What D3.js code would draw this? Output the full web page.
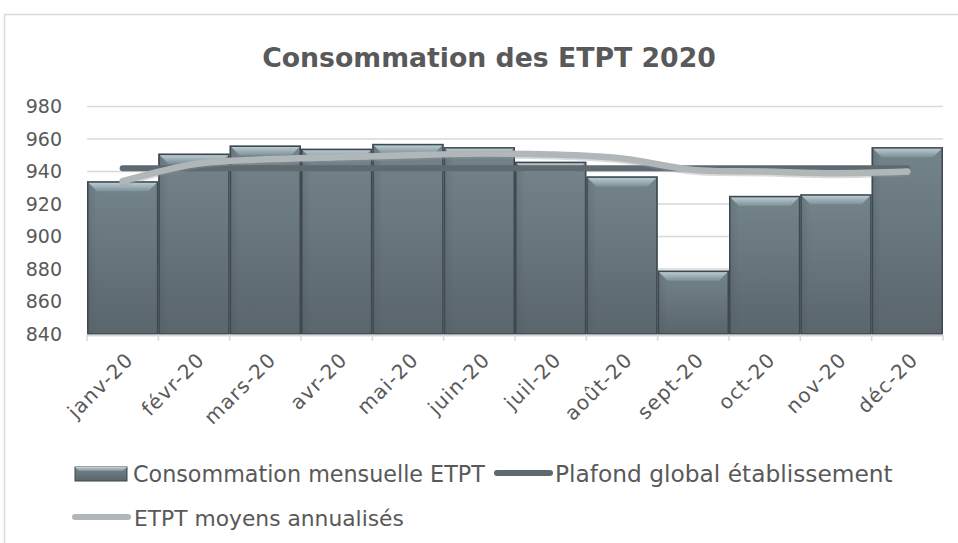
<!DOCTYPE html>
<html><head><meta charset="utf-8">
<script src="https://cdn.jsdelivr.net/npm/d3@7"></script>
<style>html,body{margin:0;padding:0;background:#fff;}svg{display:block;}</style>
</head><body>
<svg id="c" width="958" height="543"></svg>
<script>
const months = ["janv-20","févr-20","mars-20","avr-20","mai-20","juin-20","juil-20","août-20","sept-20","oct-20","nov-20","déc-20"];
const consommation = [934,951,956,954,957,955,946,937,879,925,926,955];
const plafond = [942,942,942,942,942,942,942,942,942,942,942,942];
const moyens = [934,944.5,947.5,948.7,950,951,950.5,948,941,940,939,940];
const yTicks = [840,860,880,900,920,940,960,980];
const title = "Consommation des ETPT 2020";
const legendLabels = ["Consommation mensuelle ETPT","Plafond global établissement","ETPT moyens annualisés"];

const FONT = "'DejaVu Sans', sans-serif";
const TXT = "#595959";
const svg = d3.select("#c");
const defs = svg.append("defs");

const bg = defs.append("linearGradient").attr("id","barg").attr("x1",0).attr("y1",0).attr("x2",0).attr("y2",1);
bg.append("stop").attr("offset","0%").attr("stop-color","#74848b");
bg.append("stop").attr("offset","100%").attr("stop-color","#5a656c");
const tg = defs.append("linearGradient").attr("id","topg").attr("x1",0).attr("y1",0).attr("x2",0).attr("y2",1);
tg.append("stop").attr("offset","0%").attr("stop-color","#c3d4db");
tg.append("stop").attr("offset","100%").attr("stop-color","#7f9198");
const sg = defs.append("linearGradient").attr("id","sideg").attr("x1",0).attr("y1",0).attr("x2",1).attr("y2",0);
sg.append("stop").attr("offset","0%").attr("stop-color","#4a555b").attr("stop-opacity",0.6);
sg.append("stop").attr("offset","100%").attr("stop-color","#4a555b").attr("stop-opacity",0);

// chart frame
svg.append("path").attr("d","M4.5,543 L4.5,14.5 L958,14.5").attr("fill","none").attr("stroke","#d9d9d9").attr("stroke-width",1.5);

const x = d3.scaleBand().domain(months).range([87,943]).padding(0);
const y = d3.scaleLinear().domain([840,980]).range([334,106.5]);

// gridlines
svg.append("g").selectAll("line").data(yTicks.filter(d=>d>840)).join("line")
  .attr("x1",87).attr("x2",943).attr("y1",d=>y(d)).attr("y2",d=>y(d))
  .attr("stroke","#d9d9d9").attr("stroke-width",1.5);

// y labels
svg.append("g").selectAll("text").data(yTicks).join("text")
  .attr("x",62).attr("y",d=>y(d)).attr("dy","0.36em").attr("text-anchor","end")
  .attr("font-family",FONT).attr("font-size",19).attr("fill",TXT).text(d=>d);

// bars
const bars = svg.append("g").selectAll("g").data(months).join("g");
bars.append("rect").attr("x",d=>x(d)).attr("width",x.bandwidth())
  .attr("y",(d,i)=>y(consommation[i])).attr("height",(d,i)=>y(840)-y(consommation[i]))
  .attr("fill","url(#barg)");
const bev = 10;
bars.append("rect").attr("x",d=>x(d)).attr("width",bev)
  .attr("y",(d,i)=>y(consommation[i])).attr("height",(d,i)=>y(840)-y(consommation[i]))
  .attr("fill","url(#sideg)").attr("opacity",0.5);
bars.append("path").attr("d",(d,i)=>{
  const x0=x(d), x1=x(d)+x.bandwidth(), t=y(consommation[i]);
  return `M${x0},${t} L${x1},${t} L${x1-bev},${t+bev} L${x0+bev},${t+bev} Z`;
}).attr("fill","url(#topg)");
bars.append("rect").attr("x",d=>x(d)+0.75).attr("width",x.bandwidth()-1.5)
  .attr("y",(d,i)=>y(consommation[i])+0.75).attr("height",(d,i)=>y(840)-y(consommation[i])-0.75)
  .attr("fill","none").attr("stroke","#3e484e").attr("stroke-width",1.5);

// x axis
svg.append("line").attr("x1",87).attr("x2",943).attr("y1",335.5).attr("y2",335.5).attr("stroke","#d9d9d9").attr("stroke-width",2);
const bounds = months.map(m=>x(m)).concat([x(months[11])+x.bandwidth()]);
svg.append("g").selectAll("line").data(bounds).join("line")
  .attr("x1",d=>d).attr("x2",d=>d).attr("y1",335).attr("y2",341).attr("stroke","#d9d9d9").attr("stroke-width",1.5);
svg.append("g").selectAll("text").data(months).join("text")
  .attr("transform",d=>`translate(${x(d)+x.bandwidth()/2+7},${356}) rotate(-45)`)
  .attr("text-anchor","end").attr("dy","0.35em")
  .attr("font-family",FONT).attr("font-size",20).attr("letter-spacing","1.2px").attr("fill",TXT).text(d=>d);

// lines
const cx = d=>x(d)+x.bandwidth()/2;
const lineP = d3.line().x((d,i)=>cx(months[i])).y(d=>y(d));
const lineM = d3.line().x((d,i)=>cx(months[i])).y(d=>y(d)).curve(d3.curveCatmullRom.alpha(0.5));
svg.append("path").attr("d",lineP(plafond)).attr("fill","none").attr("stroke","#5e6970").attr("stroke-width",6).attr("stroke-linecap","round");
svg.append("path").attr("d",lineM(moyens)).attr("fill","none").attr("stroke","#8f9598").attr("stroke-opacity",0.35).attr("stroke-width",7).attr("stroke-linecap","round").attr("transform","translate(0,1.5)");
svg.append("path").attr("d",lineM(moyens)).attr("fill","none").attr("stroke","#b1b6b9").attr("stroke-width",6.5).attr("stroke-linecap","round");

// title
const t = svg.append("text").attr("x",489).attr("y",67).attr("text-anchor","middle")
  .attr("font-family",FONT).attr("font-weight","bold").attr("font-size",28).attr("fill",TXT).text(title);
const tw = t.node().getComputedTextLength();
t.attr("font-size", 28*454/tw);

// legend
const lg = svg.append("g");
lg.append("rect").attr("x",75).attr("y",467).attr("width",52).attr("height",14).attr("fill","url(#barg)").attr("stroke","#3e484e").attr("stroke-width",1);
lg.append("path").attr("d","M75,467 L127,467 L123,471 L79,471 Z").attr("fill","url(#topg)");
const l1 = lg.append("text").attr("x",133).attr("y",474).attr("dy","0.36em").attr("font-family",FONT).attr("font-size",20).attr("fill",TXT).text(legendLabels[0]);
const fit = (sel, w) => { const cw = sel.node().getComputedTextLength(); sel.attr("font-size", 20*w/cw); };
fit(l1, 352);
lg.append("line").attr("x1",497).attr("x2",550).attr("y1",473).attr("y2",473).attr("stroke","#5e6970").attr("stroke-width",6).attr("stroke-linecap","round");
const l2 = lg.append("text").attr("x",555).attr("y",474).attr("dy","0.36em").attr("font-family",FONT).attr("font-size",20).attr("fill",TXT).text(legendLabels[1]);
fit(l2, 338);
lg.append("line").attr("x1",75).attr("x2",128).attr("y1",517).attr("y2",517).attr("stroke","#b1b6b9").attr("stroke-width",6).attr("stroke-linecap","round");
const l3 = lg.append("text").attr("x",134).attr("y",518).attr("dy","0.36em").attr("font-family",FONT).attr("font-size",20).attr("fill",TXT).text(legendLabels[2]);
fit(l3, 270);
</script>
</body></html>
